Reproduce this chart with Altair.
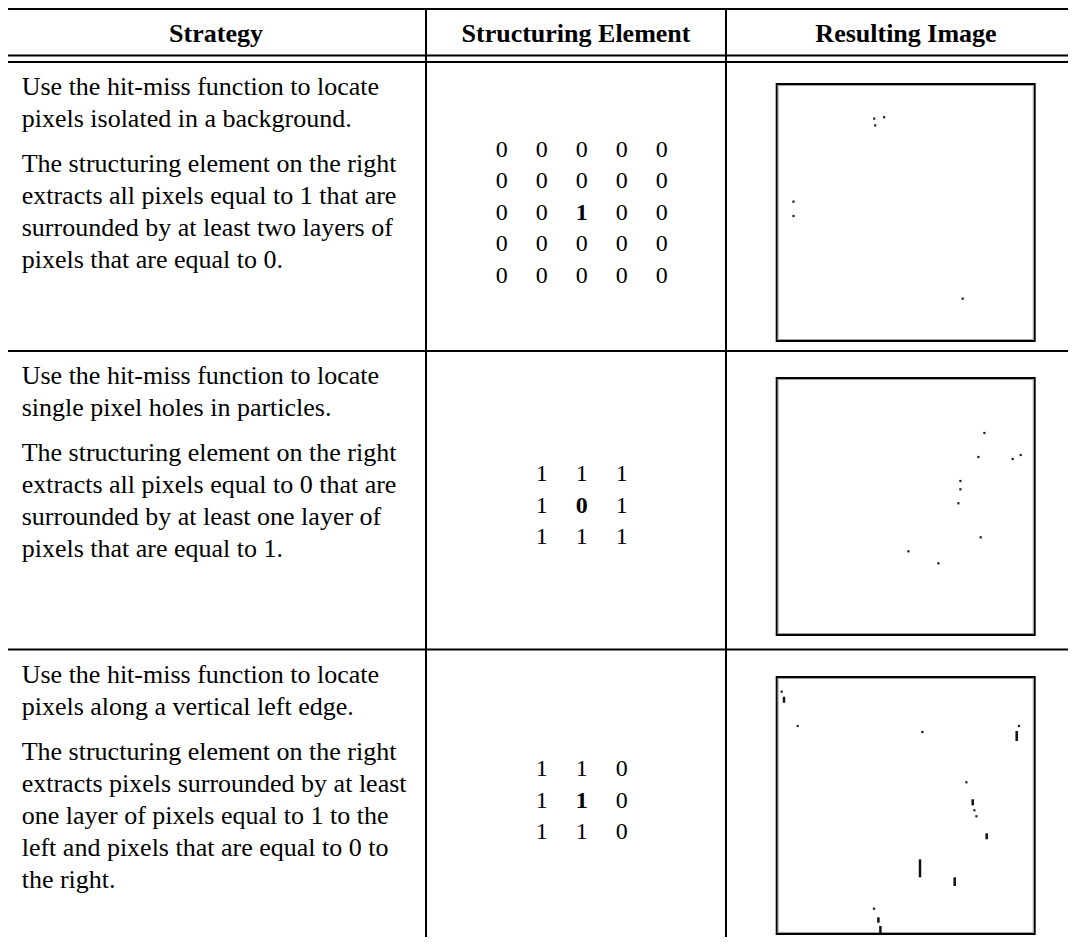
import altair as alt
import pandas as pd

# ---------------- data ----------------
HEADERS = ["Strategy", "Structuring Element", "Resulting Image"]

STRATEGY_TEXT = [
    [["Use the hit-miss function to locate",
      "pixels isolated in a background."],
     ["The structuring element on the right",
      "extracts all pixels equal to 1 that are",
      "surrounded by at least two layers of",
      "pixels that are equal to 0."]],
    [["Use the hit-miss function to locate",
      "single pixel holes in particles."],
     ["The structuring element on the right",
      "extracts all pixels equal to 0 that are",
      "surrounded by at least one layer of",
      "pixels that are equal to 1."]],
    [["Use the hit-miss function to locate",
      "pixels along a vertical left edge."],
     ["The structuring element on the right",
      "extracts pixels surrounded by at least",
      "one layer of pixels equal to 1 to the",
      "left and pixels that are equal to 0 to",
      "the right."]],
]

ELEMENTS = [
    [[0, 0, 0, 0, 0], [0, 0, 0, 0, 0], [0, 0, 1, 0, 0], [0, 0, 0, 0, 0], [0, 0, 0, 0, 0]],
    [[1, 1, 1], [1, 0, 1], [1, 1, 1]],
    [[1, 1, 0], [1, 1, 0], [1, 1, 0]],
]

# resulting image pixels (image coordinates, 0..258)
IMG1_DOTS_X = [98.5, 99.5, 108.4, 17.8, 17.8, 187.0]
IMG1_DOTS_Y = [35.6, 42.4, 34.2, 118.6, 133.0, 215.7]

IMG2_DOTS_X = [208.7, 202.7, 237.0, 245.0, 184.7, 184.7, 182.7, 205.0, 132.7, 162.7]
IMG2_DOTS_Y = [56.0, 80.0, 82.0, 78.0, 104.0, 112.3, 126.3, 160.3, 174.3, 186.3]

IMG3_DOTS_X = [6.0, 22.0, 146.7, 243.3, 190.7, 198.7, 200.7, 98.3]
IMG3_DOTS_Y = [15.7, 50.0, 56.0, 50.0, 106.3, 134.3, 140.3, 232.7]
IMG3_BARS_X = [8.3, 241.0, 197.0, 211.0, 144.3, 179.0, 102.7, 104.7]
IMG3_BARS_Y1 = [20.7, 55.0, 123.3, 157.3, 183.3, 201.3, 241.3, 250.0]
IMG3_BARS_Y2 = [26.7, 65.0, 129.3, 163.3, 201.3, 210.0, 246.7, 258.0]

# ---------------- layout ----------------
FONT = "Liberation Serif"
W, H = 1060, 929
LEFT, RIGHT, TOP, BOTTOM = 6, 1090, 9, 960
COL_DIVS = [426, 726]
HEADER_LINES = [55.5, 62]
ROW_SEPS = [351, 649.5]
ROW_TOPS = [62, 351, 649.5]
HEADER_CENTERS = [216, 576, 906]
HEADER_BASE = 41.7
TEXT_X = 21.7
LINE_H = 32
PARA_GAP = 13
GRID_CX = 581.7
GRID_CY = [212, 505, 800]
GRID_DX, GRID_DY = 40, 31.5
BOX_X = 775.7
BOX_TOPS = [83, 377, 676]
BOX_SIZE = 258

# rules
segs = []
segs.append(dict(x=LEFT - 1, x2=RIGHT, y=TOP, y2=TOP))
for yy in HEADER_LINES + ROW_SEPS:
    segs.append(dict(x=LEFT - 1, x2=RIGHT, y=yy, y2=yy))
for xx in [LEFT] + COL_DIVS:
    segs.append(dict(x=xx, x2=xx, y=TOP - 1, y2=BOTTOM))
segs_df = pd.DataFrame(segs)

# text
norm_rows, bold_rows = [], []
for i, h in enumerate(HEADERS):
    bold_rows.append(dict(x=HEADER_CENTERS[i], y=HEADER_BASE, t=h))
for r, paras in enumerate(STRATEGY_TEXT):
    y = ROW_TOPS[r] + 33
    for p, para in enumerate(paras):
        if p > 0:
            y += PARA_GAP
        for line in para:
            norm_rows.append(dict(x=TEXT_X, y=y, t=line, a="left"))
            y += LINE_H
text_df = pd.DataFrame(norm_rows)

dig_norm, dig_bold = [], []
for r, grid in enumerate(ELEMENTS):
    n = len(grid)
    for i, row in enumerate(grid):
        for j, v in enumerate(row):
            x = GRID_CX + (j - (n - 1) / 2) * GRID_DX
            y = GRID_CY[r] + 7.5 + (i - (n - 1) / 2) * GRID_DY
            rec = dict(x=x, y=y, t=str(v))
            if i == (n - 1) // 2 and j == (n - 1) // 2:
                dig_bold.append(rec)
            else:
                dig_norm.append(rec)
bold_rows_df = pd.DataFrame(bold_rows)
dig_norm_df = pd.DataFrame(dig_norm)
dig_bold_df = pd.DataFrame(dig_bold)

# boxes
boxes_df = pd.DataFrame([dict(x=BOX_X + 1, x2=BOX_X + BOX_SIZE + 1, y=t + 1, y2=t + BOX_SIZE)
                         for t in BOX_TOPS])
inner_df = pd.DataFrame([dict(x=BOX_X + 2.5, x2=BOX_X + BOX_SIZE - 0.5, y=t + 2.5, y2=t + BOX_SIZE - 1.5)
                         for t in BOX_TOPS])

dots = []
for k, (xs_, ys_) in enumerate([(IMG1_DOTS_X, IMG1_DOTS_Y), (IMG2_DOTS_X, IMG2_DOTS_Y),
                                 (IMG3_DOTS_X, IMG3_DOTS_Y)]):
    for a, b in zip(xs_, ys_):
        dots.append(dict(x=BOX_X + a, y=BOX_TOPS[k] + b))
dots_df = pd.DataFrame(dots)
bars_df = pd.DataFrame([dict(x=BOX_X + a, y=BOX_TOPS[2] + b1, y2=BOX_TOPS[2] + b2)
                        for a, b1, b2 in zip(IMG3_BARS_X, IMG3_BARS_Y1, IMG3_BARS_Y2)])

# ---------------- chart ----------------
xs = alt.Scale(domain=[8, 8 + W], nice=False, zero=False)
ys = alt.Scale(domain=[8, 8 + H], nice=False, zero=False, reverse=True)
X = lambda f="x": alt.X(f"{f}:Q", scale=xs, axis=None)
Y = lambda f="y": alt.Y(f"{f}:Q", scale=ys, axis=None)

rules = alt.Chart(segs_df).mark_rule(color="black", strokeWidth=2).encode(
    x=X(), x2="x2:Q", y=Y(), y2="y2:Q")

outer = alt.Chart(boxes_df).mark_rect(fillOpacity=0, stroke="black", strokeWidth=2).encode(
    x=X(), x2="x2:Q", y=Y(), y2="y2:Q")
inner = alt.Chart(inner_df).mark_rect(fillOpacity=0, stroke="#a0a0a0", strokeWidth=1).encode(
    x=X(), x2="x2:Q", y=Y(), y2="y2:Q")

pix = alt.Chart(dots_df).mark_square(size=5, color="#222222", opacity=1).encode(x=X(), y=Y())
bars = alt.Chart(bars_df).mark_rule(color="#111111", strokeWidth=2.5).encode(
    x=X(), y=Y(), y2="y2:Q")

body = alt.Chart(text_df).mark_text(align="left", baseline="alphabetic", font=FONT,
                                    fontSize=26, color="black").encode(
    x=X(), y=Y(), text="t:N")
heads = alt.Chart(bold_rows_df).mark_text(align="center", baseline="alphabetic", font=FONT,
                                          fontSize=26, fontWeight="bold", color="black").encode(
    x=X(), y=Y(), text="t:N")
digs = alt.Chart(dig_norm_df).mark_text(align="center", baseline="alphabetic", font=FONT,
                                        fontSize=24, color="black").encode(
    x=X(), y=Y(), text="t:N")
digsb = alt.Chart(dig_bold_df).mark_text(align="center", baseline="alphabetic", font=FONT,
                                         fontSize=24, fontWeight="bold", color="black").encode(
    x=X(), y=Y(), text="t:N")

chart = alt.layer(rules, outer, inner, pix, bars, body, heads, digs, digsb).properties(
    width=W, height=H, autosize=alt.AutoSizeParams(type="none"), padding=0,
    background="white"
).configure_view(strokeWidth=0)

chart.save("out.html", embed_options={"renderer": "svg", "actions": False})
